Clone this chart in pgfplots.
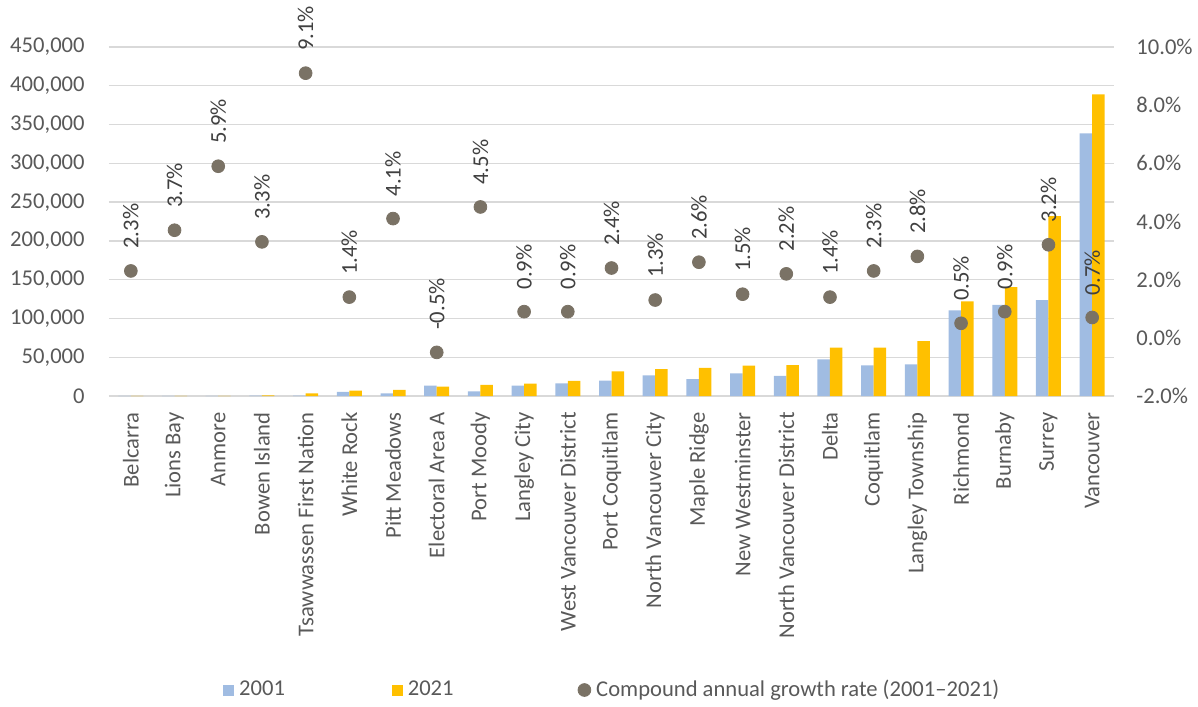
\documentclass[border=0pt]{standalone}
\usepackage{pgfplots}
\pgfplotsset{compat=1.18}
\usepackage{fontspec}
\setmainfont{Carlito}
\definecolor{barblue}{RGB}{160,188,226}
\definecolor{bargold}{RGB}{255,192,0}
\definecolor{dotcol}{RGB}{122,114,101}
\definecolor{txt}{RGB}{89,89,89}
\definecolor{lbl}{RGB}{64,64,64}
\definecolor{gridc}{RGB}{217,217,217}
\newcommand{\chartfont}{\fontsize{11.3}{13}\selectfont}
\begin{document}
\begin{tikzpicture}
\useasboundingbox (-54.5pt,-155pt) rectangle (544.5pt,198pt);
\pgfplotsset{
  base/.style={
    scale only axis, width=502.5pt, height=174.5pt,
    at={(0,0)}, anchor=south west,
    xmin=-0.5, xmax=22.5,
    major tick length=0pt,
    every tick label/.append style={font=\chartfont, text=txt},
    /pgf/number format/assume math mode=true,
  }
}
\begin{axis}[base,
  ymin=0, ymax=450000,
  ytick={0,50000,...,450000},
  scaled y ticks=false,
  yticklabel style={/pgf/number format/fixed, /pgf/number format/1000 sep={,}, anchor=east, inner xsep=12pt, inner ysep=0pt},
  ymajorgrids, major grid style={gridc, line width=0.7pt},
  axis line style={draw=none},
  xtick={0,...,22},
  xticklabels={Belcarra, Lions Bay, Anmore, Bowen Island, Tsawwassen First Nation, White Rock, Pitt Meadows, Electoral Area A, Port Moody, Langley City, West Vancouver District, Port Coquitlam, North Vancouver City, Maple Ridge, New Westminster, North Vancouver District, Delta, Coquitlam, Langley Township, Richmond, Burnaby, Surrey, Vancouver},
  xticklabel style={rotate=90, anchor=east, inner xsep=8pt, inner ysep=0pt},
  ybar, bar width=6.25pt,
]
% 2001
\addplot[fill=barblue, draw=none, bar shift=-3.125pt] coordinates {
(0,160) (1,150) (2,100) (3,480) (4,600) (5,5200) (6,3500) (7,13500) (8,5900) (9,13500)
(10,16200) (11,19700) (12,26700) (13,21700) (14,29200) (15,25800) (16,47300) (17,39600)
(18,40800) (19,110500) (20,117500) (21,123500) (22,338500)};
% 2021
\addplot[fill=bargold, draw=none, bar shift=3.125pt] coordinates {
(0,250) (1,310) (2,315) (3,920) (4,3400) (5,6900) (6,7800) (7,12200) (8,14200) (9,16100)
(10,19400) (11,31700) (12,34600) (13,36300) (14,39300) (15,39900) (16,62400) (17,62400)
(18,70900) (19,122100) (20,140500) (21,232000) (22,389000)};
\end{axis}
\begin{axis}[base,
  ymin=-2, ymax=10, ytick={-2,0,...,10},
  axis y line*=right, hide x axis,
  axis line style={draw=none},
  yticklabel={\pgfmathprintnumber[fixed,fixed zerofill,precision=1]{\tick}\%},
  yticklabel style={anchor=west, inner xsep=11pt, inner ysep=0pt},
  legend columns=3,
  legend cell align=left,
  legend style={at={(axis description cs:0,0)}, anchor=west, xshift=57pt, yshift=-147pt,
    draw=none, fill=none, inner sep=0pt, font=\chartfont, text=txt,
    nodes={inner xsep=2.5pt, inner ysep=1pt},
    /tikz/column 2/.style={column sep=51pt},
    /tikz/column 4/.style={column sep=59.5pt}},
]
\addlegendimage{legend image code/.code={\fill[barblue] (0pt,-2.5pt) rectangle (5pt,2.5pt);}}
\addlegendentry{2001}
\addlegendimage{legend image code/.code={\fill[bargold] (0pt,-2.5pt) rectangle (5pt,2.5pt);}}
\addlegendentry{2021}
\addplot[only marks, mark=*, mark size=3.2pt, mark options={draw=dotcol, fill=dotcol},
  point meta=explicit symbolic, nodes near coords,
  every node near coord/.append style={rotate=90, anchor=west, inner xsep=11pt, inner ysep=0pt, font=\chartfont, text=lbl},
  legend image code/.code={\fill[dotcol] (3.2pt,0pt) circle (3.2pt);}]
coordinates {
(0,2.3) [2.3\%] (1,3.7) [3.7\%] (2,5.9) [5.9\%] (3,3.3) [3.3\%] (4,9.1) [9.1\%]
(5,1.4) [1.4\%] (6,4.1) [4.1\%] (7,-0.5) [-0.5\%] (8,4.5) [4.5\%] (9,0.9) [0.9\%]
(10,0.9) [0.9\%] (11,2.4) [2.4\%] (12,1.3) [1.3\%] (13,2.6) [2.6\%] (14,1.5) [1.5\%]
(15,2.2) [2.2\%] (16,1.4) [1.4\%] (17,2.3) [2.3\%] (18,2.8) [2.8\%] (19,0.5) [0.5\%]
(20,0.9) [0.9\%] (21,3.2) [3.2\%] (22,0.7) [0.7\%]};
\addlegendentry{Compound annual growth rate (2001--2021)}
\end{axis}
\end{tikzpicture}
\end{document}
